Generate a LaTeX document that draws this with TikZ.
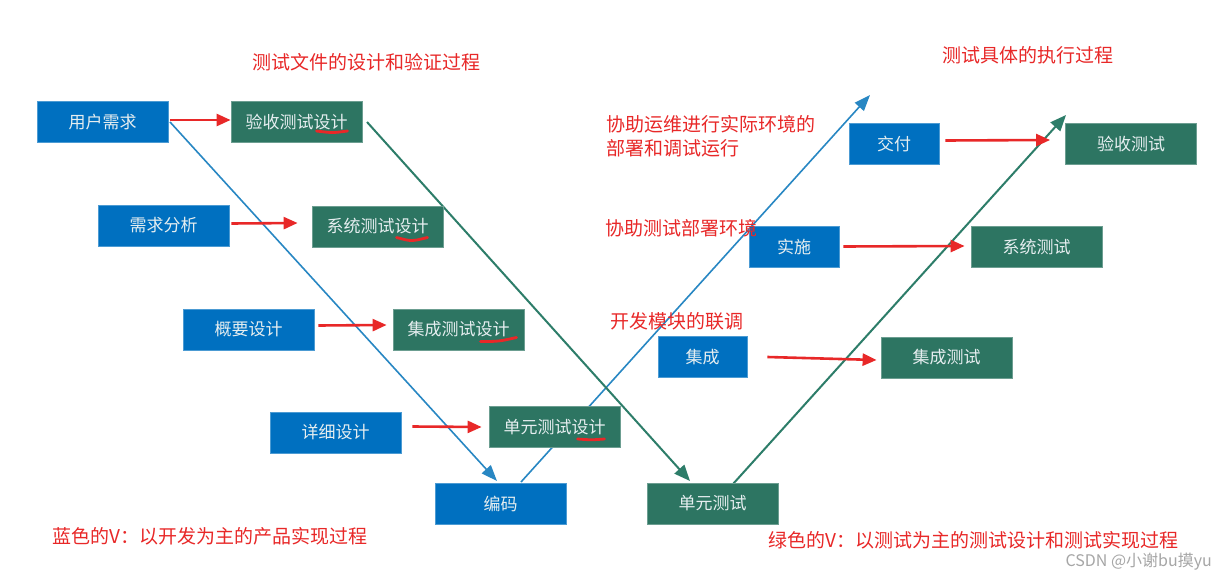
\documentclass[tikz,border=0pt]{standalone}
\usepackage{fontspec}
\setmainfont{Noto Sans CJK SC}
\usetikzlibrary{arrows.meta}
\definecolor{boxblue}{RGB}{0,112,192}
\definecolor{boxgreen}{RGB}{45,117,98}
\definecolor{lineblue}{RGB}{40,135,195}
\definecolor{linegreen}{RGB}{45,125,105}
\definecolor{labelred}{RGB}{232,40,40}
\definecolor{boxtext}{RGB}{230,238,240}
\tikzset{
  devbox/.style={fill=boxblue, draw=boxblue!70!white, line width=0.8pt, minimum width=131pt, minimum height=41pt, inner sep=0pt, text=boxtext, font=\fontsize{17}{20}\selectfont},
  testbox/.style={devbox, fill=boxgreen, draw=boxgreen!70!white},
  redarrow/.style={draw=labelred, line width=2.6pt, -{Triangle[length=14pt,width=12pt]}},
  vblue/.style={draw=lineblue, line width=1.6pt, -{Triangle[length=16pt,width=12pt]}},
  vgreen/.style={draw=linegreen, line width=2pt, -{Triangle[length=16pt,width=13pt]}},
  redlabel/.style={text=labelred, font=\fontsize{19}{26}\selectfont, inner sep=0pt},
  underl/.style={draw=labelred, line width=2.8pt, line cap=round}
}
\begin{document}
\begin{tikzpicture}[x=1pt,y=-1pt]
\useasboundingbox[fill=white] (0,0) rectangle (1225,575);

% V lines (drawn first, under boxes)
\coordinate (b1) at (170,122);
\coordinate (b2) at (497,481);
\coordinate (b3) at (521,482);
\coordinate (b4) at (870,95);
\coordinate (g1) at (367,122);
\coordinate (g2) at (690,481);
\coordinate (g3) at (733,484);
\coordinate (g4) at (1066,115);
\draw[vblue] (b1) -- (b2);
\draw[vblue] (b3) -- (b4);
\draw[vgreen] (g1) -- (g2);
\draw[vgreen] (g3) -- (g4);

% left side boxes
\node[devbox] (yhxq) at (102.5,122) {用户需求};
\node[testbox] (yscssj) at (296.5,122) {验收测试设计};
\node[devbox] (xqfx) at (163.5,225.5) {需求分析};
\node[testbox] (xtcssj) at (377.5,226.5) {系统测试设计};
\node[devbox] (gysj) at (248.5,329.5) {概要设计};
\node[testbox] (jccssj) at (458.5,329.5) {集成测试设计};
\node[devbox] (xxsj) at (335.5,432.5) {详细设计};
\node[testbox] (dycssj) at (554.5,427) {单元测试设计};
\node[devbox] (bm) at (500.5,503.5) {编码};
\node[testbox] (dycs) at (712.5,503.5) {单元测试};

% right side boxes
\node[devbox, minimum width=89pt] (jc) at (702.5,357) {集成};
\node[testbox] (jccs) at (946.5,357.5) {集成测试};
\node[devbox, minimum width=90pt] (ss) at (794,246.5) {实施};
\node[testbox] (xtcs) at (1036.5,246.5) {系统测试};
\node[devbox, minimum width=90pt] (jf) at (894,143.5) {交付};
\node[testbox] (yscs) at (1131,143.5) {验收测试};

% red arrows
\draw[redarrow] (yhxq.east) ++(2,-2) -- (yscssj.west |- 0,120);
\draw[redarrow] (xqfx.east) ++(2,-2) -- ([xshift=-14pt]xtcssj.west |- 0,223);
\draw[redarrow] (gysj.east) ++(4,-4) -- ([xshift=-6pt]jccssj.west |- 0,325);
\draw[redarrow] (xxsj.east) ++(11,-6) -- ([xshift=-7pt]dycssj.west |- 0,427);
\draw[redarrow] (jc.east) ++(20,0) -- ([xshift=-4pt]jccs.west |- 0,360);
\draw[redarrow] (ss.east) ++(4,0) -- ([xshift=-6pt]xtcs.west |- 0,246);
\draw[redarrow] (jf.east) ++(6,-3) -- ([xshift=-15pt]yscs.west |- 0,140);

% red underlines under 设计
\draw[underl] ([xshift=20pt,yshift=-9pt]yscssj.center) .. controls ([xshift=36pt,yshift=-11pt]yscssj.center) .. ([xshift=51pt,yshift=-9pt]yscssj.center);
\draw[underl] ([xshift=19pt,yshift=-11pt]xtcssj.center) .. controls ([xshift=34pt,yshift=-15pt]xtcssj.center) .. ([xshift=50pt,yshift=-11pt]xtcssj.center);
\draw[underl] ([xshift=22pt,yshift=-12pt]jccssj.center) .. controls ([xshift=40pt,yshift=-12pt]jccssj.center) .. ([xshift=58pt,yshift=-8pt]jccssj.center);
\draw[underl] ([xshift=23pt,yshift=-12pt]dycssj.center) .. controls ([xshift=37pt,yshift=-13pt]dycssj.center) .. ([xshift=50pt,yshift=-12pt]dycssj.center);

% red labels
\node[redlabel] (t1) at (366,62) {测试文件的设计和验证过程};
\node[redlabel] (t2) at (1028,55) {测试具体的执行过程};
\node[redlabel, anchor=north west, align=left, font=\fontsize{19}{24}\selectfont] (t3) at (606,115) {协助运维进行实际环境的\\部署和调试运行};
\node[redlabel, anchor=west] (t4) at (605,228) {协助测试部署环境};
\node[redlabel, anchor=west] (t5) at (610,321) {开发模块的联调};
\node[redlabel, anchor=west] (t6) at (52,536) {蓝色的V：以开发为主的产品实现过程};
\node[redlabel, anchor=west] (t7) at (768,540) {绿色的V：以测试为主的测试设计和测试实现过程};

% watermark
\node[anchor=east, text=gray!70, font=\fontsize{16}{18}\selectfont, inner sep=0pt] (wm) at (1212,562) {CSDN @小谢bu摸yu};
\end{tikzpicture}
\end{document}
